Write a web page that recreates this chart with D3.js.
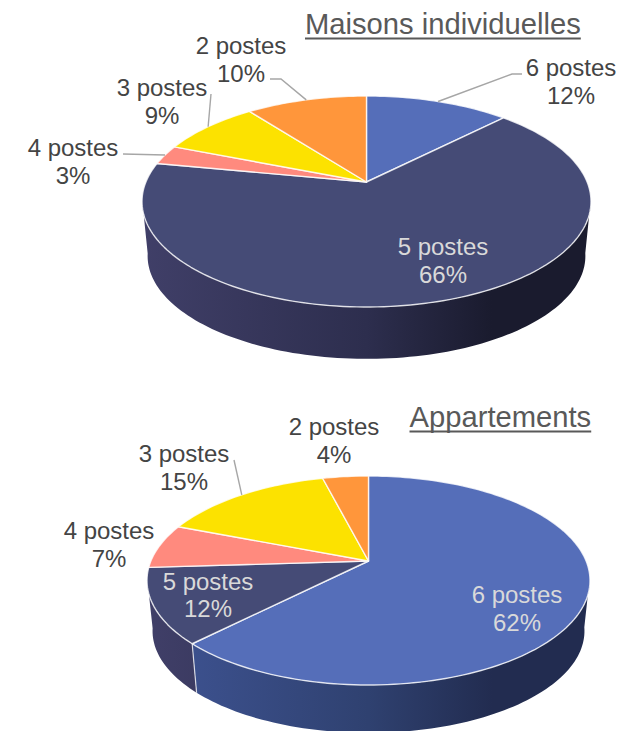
<!DOCTYPE html>
<html>
<head>
<meta charset="utf-8">
<script src="https://cdn.jsdelivr.net/npm/d3@7"></script>
<style>
  html, body { margin: 0; background: #fff; }
  svg { display: block; font-family: "Liberation Sans", Arial, sans-serif; }
</style>
</head>
<body>
<div class="visualisation"></div>
<script>
var width = 620;
var height = 731;

// data, in the clockwise order of the slices from 12 o'clock
var categories = ["6 postes", "5 postes", "4 postes", "3 postes", "2 postes"];
var maisonsValues = [12.4, 65.6, 3, 8.6, 10.4];
var appartValues = [62.4, 11.6, 6.9, 15.1, 4];
var chartTitles = ["Maisons individuelles", "Appartements"];

var topColors = ["#556eb9", "#454b76", "#ff8a7e", "#fce200", "#ff963b"];
var sideLeftColors = ["#3f5494", "#403f68", "#b8635a", "#b5a300", "#b86b2a"];
var sideMidColors = ["#2f4170", "#2d2e4e", "#8f4d46", "#8c7e00", "#8f5320"];
var sideRightColors = ["#222c50", "#1a1b2e", "#66372f", "#645a00", "#663b17"];

// cx/cy = projected pie centre, up/down = distance to the rim, rx = half width
var layouts = [
  {
    cx: 366.5, cy: 182, up: 86, down: 125, rx: 224.5, depth: 55, shrink: 0.975,
    titleX: 305, titleY: 34, titleSize: 29.2,
    labels: [
      {x: 571, y: 76, inside: false, line: [[512, 74], [522, 74]]},
      {x: 443, y: 255, inside: true},
      {x: 73, y: 156, inside: false, line: [[123, 154]]},
      {x: 162, y: 96, inside: false, line: [[211, 94]]},
      {x: 241, y: 54, inside: false, line: [[281, 79], [270, 79]]}
    ]
  },
  {
    cx: 368.5, cy: 561, up: 85, down: 124, rx: 221.5, depth: 51, shrink: 0.975,
    titleX: 409.5, titleY: 427, titleSize: 29.2,
    labels: [
      {x: 517, y: 603, inside: true},
      {x: 208, y: 589.5, inside: true},
      {x: 109, y: 539, inside: false},
      {x: 184, y: 462, inside: false, line: [[234, 460]]},
      {x: 334, y: 435, inside: false}
    ]
  }
];

var svg = d3.select(".visualisation").append("svg")
    .attr("width", width)
    .attr("height", height);

var defs = svg.append("defs");

var pie = d3.pie().sort(null);
var path = d3.line();

// the pie is a circle seen in perspective, so the apex is not the ellipse centre
var makeProjection = function(l) {
  var k = (l.down - l.up) / (l.down + l.up);
  var b = l.down * (1 - k);
  var a = l.rx * Math.sqrt(1 - k * k);
  return function(theta, lower) {
    var x = Math.sin(theta);
    var v = -Math.cos(theta);
    var s = lower ? l.shrink : 1;
    var dy = lower ? l.depth : 0;
    return [l.cx + s * a * x / (1 - k * v), l.cy + s * b * v / (1 - k * v) + dy];
  };
};

var arcAngles = function(d) {
  var steps = Math.max(2, Math.ceil((d.endAngle - d.startAngle) * 40));
  return d3.range(steps + 1).map(function(i) {
    return d.startAngle + (d.endAngle - d.startAngle) * i / steps;
  });
};

// only the part of the wall facing the viewer gets drawn
var isFront = function(theta) {
  return -Math.cos(theta) >= 0.15;
};

var drawChart = function(values, title, l, index) {
  var project = makeProjection(l);
  var slices = pie(values);
  var g = svg.append("g");

  slices.forEach(function(d, i) {
    var id = "side" + index + "-" + i;
    var grad = defs.append("linearGradient")
        .attr("id", id)
        .attr("gradientUnits", "userSpaceOnUse")
        .attr("x1", l.cx - l.rx).attr("x2", l.cx + l.rx)
        .attr("y1", 0).attr("y2", 0);
    grad.append("stop").attr("offset", "0").attr("stop-color", sideLeftColors[i]);
    grad.append("stop").attr("offset", "0.5").attr("stop-color", sideMidColors[i]);
    grad.append("stop").attr("offset", "0.78").attr("stop-color", sideRightColors[i]);
    grad.append("stop").attr("offset", "1").attr("stop-color", sideRightColors[i]);

    var angles = arcAngles(d).filter(isFront);
    if (angles.length < 2) return;
    var upper = angles.map(function(t) { return project(t, false); });
    var lower = angles.slice().reverse().map(function(t) { return project(t, true); });
    g.append("path")
        .attr("d", path(upper.concat(lower)) + "Z")
        .attr("fill", "url(#" + id + ")");
  });

  // white seam between two slices on the wall
  slices.forEach(function(d) {
    if (!isFront(d.startAngle) || d.startAngle === 0) return;
    g.append("path")
        .attr("d", path([project(d.startAngle, false), project(d.startAngle, true)]))
        .attr("stroke", "#fff")
        .attr("stroke-opacity", 0.75)
        .attr("stroke-width", 1.2);
  });

  // top of the slices
  slices.forEach(function(d, i) {
    var rim = arcAngles(d).map(function(t) { return project(t, false); });
    g.append("path")
        .attr("d", path([[l.cx, l.cy]].concat(rim)) + "Z")
        .attr("fill", topColors[i])
        .attr("stroke", "#fff")
        .attr("stroke-opacity", 0.8)
        .attr("stroke-width", 1.4)
        .attr("stroke-linejoin", "round");
  });

  // leader lines run from the middle of the slice's rim to the label
  slices.forEach(function(d, i) {
    var label = l.labels[i];
    if (!label.line) return;
    var mid = project((d.startAngle + d.endAngle) / 2, false);
    g.append("path")
        .attr("d", path([mid].concat(label.line)))
        .attr("fill", "none")
        .attr("stroke", "#a6a6a6")
        .attr("stroke-width", 1.4);
  });

  slices.forEach(function(d, i) {
    var label = l.labels[i];
    var text = g.append("text")
        .attr("text-anchor", "middle")
        .attr("font-size", 24)
        .attr("fill", label.inside ? "#d9d9d9" : "#444");
    text.append("tspan")
        .attr("x", label.x).attr("y", label.y)
        .text(categories[i]);
    text.append("tspan")
        .attr("x", label.x).attr("y", label.y + 27.5)
        .text(Math.round(d.value) + "%");
  });

  var titleText = g.append("text")
      .attr("x", l.titleX)
      .attr("y", l.titleY)
      .attr("font-size", l.titleSize)
      .attr("fill", "#595959")
      .text(title);

  // the reference's underline sits lower than the browser's own
  g.append("path")
      .attr("d", path([
        [l.titleX, l.titleY + 4.5],
        [l.titleX + titleText.node().getComputedTextLength(), l.titleY + 4.5]
      ]))
      .attr("stroke", "#595959")
      .attr("stroke-width", 1.8);
};

drawChart(maisonsValues, chartTitles[0], layouts[0], 0);
drawChart(appartValues, chartTitles[1], layouts[1], 1);
</script>
</body>
</html>
